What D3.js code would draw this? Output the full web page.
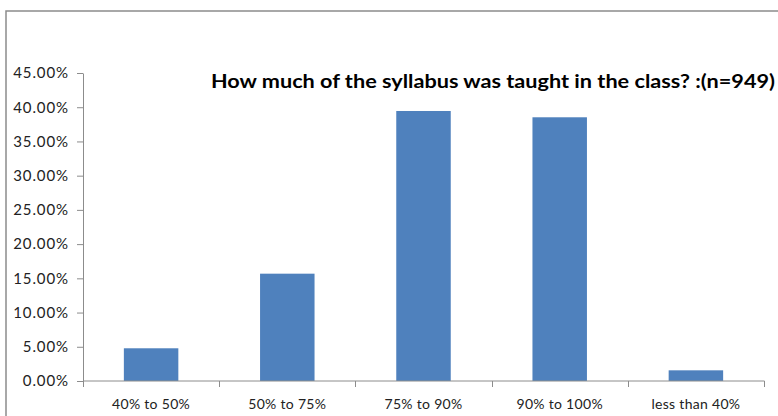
<!DOCTYPE html>
<meta charset='utf-8'>
<style>
body { margin: 0; background: #fff; }
svg { display: block; }
text { font-family: Lato, 'Open Sans', sans-serif; fill: #222; }
.title { font-weight: bold; font-size: 18px; fill: #000; }
.axis text { font-size: 14px; }
.yaxis text { font-size: 15px; letter-spacing: 0.9px; }
.axis path, .axis line { stroke: #8c8c8c; }
</style>
<svg width='778' height='416'></svg>
<script src='https://d3js.org/d3.v7.min.js'></script>
<script>

var categories = ['40% to 50%', '50% to 75%', '75% to 90%', '90% to 100%', 'less than 40%'];
var values = [4.78, 15.68, 39.45, 38.53, 1.56];
var yTicks = [0, 5, 10, 15, 20, 25, 30, 35, 40, 45];
var title = 'How much of the syllabus was taught in the class? :(n=949)';

var svg = d3.select('svg'),
    plotLeft = 83, plotRight = 764, plotTop = 73, plotBottom = 381;

// chart frame (only top and left edges visible)
svg.append('path')
    .attr('d', 'M6,416V11H778')
    .attr('fill', 'none')
    .attr('stroke', '#8c8c8c')
    .attr('stroke-width', 1.5);

var x = d3.scaleBand()
    .domain(categories)
    .range([plotLeft, plotRight])
    .paddingInner(0.6)
    .paddingOuter(0.3);

var y = d3.scaleLinear()
    .domain([0, 45])
    .range([plotBottom, plotTop]);

svg.append('g')
    .selectAll('rect')
    .data(values)
    .enter()
    .append('rect')
    .attr('x', function(d, i) { return x(categories[i]); })
    .attr('width', x.bandwidth())
    .attr('y', function(d) { return y(d); })
    .attr('height', function(d) { return y(0) - y(d); })
    .attr('fill', '#4f81bd');

var yAxis = svg.append('g')
    .attr('class', 'axis yaxis')
    .attr('transform', 'translate(' + plotLeft + ',0)')
    .call(d3.axisLeft(y)
        .tickValues(yTicks)
        .tickSize(6)
        .tickSizeOuter(0)
        .tickPadding(8)
        .tickFormat(function(d) { return d.toFixed(2) + '%'; }));

// x axis with ticks at category boundaries
var xAxis = svg.append('g')
    .attr('class', 'axis')
    .attr('transform', 'translate(0,' + plotBottom + ')');

xAxis.append('line')
    .attr('x1', plotLeft).attr('x2', plotRight + 0.5);

xAxis.selectAll('.bound')
    .data(d3.range(categories.length + 1))
    .enter()
    .append('line')
    .attr('x1', function(i) { return Math.round(plotLeft + i * x.step()) + 0.5; })
    .attr('x2', function(i) { return Math.round(plotLeft + i * x.step()) + 0.5; })
    .attr('y1', 0).attr('y2', 6);

xAxis.selectAll('.lbl')
    .data(categories)
    .enter()
    .append('text')
    .attr('x', function(d) { return x(d) + x.bandwidth() / 2; })
    .attr('y', 28)
    .attr('text-anchor', 'middle')
    .style('letter-spacing', '0.3px')
    .text(function(d) { return d; });

svg.append('text')
    .attr('class', 'title')
    .attr('x', 211)
    .attr('y', 88)
    .attr('textLength', 564)
    .attr('lengthAdjust', 'spacingAndGlyphs')
    .text(title);

</script>
